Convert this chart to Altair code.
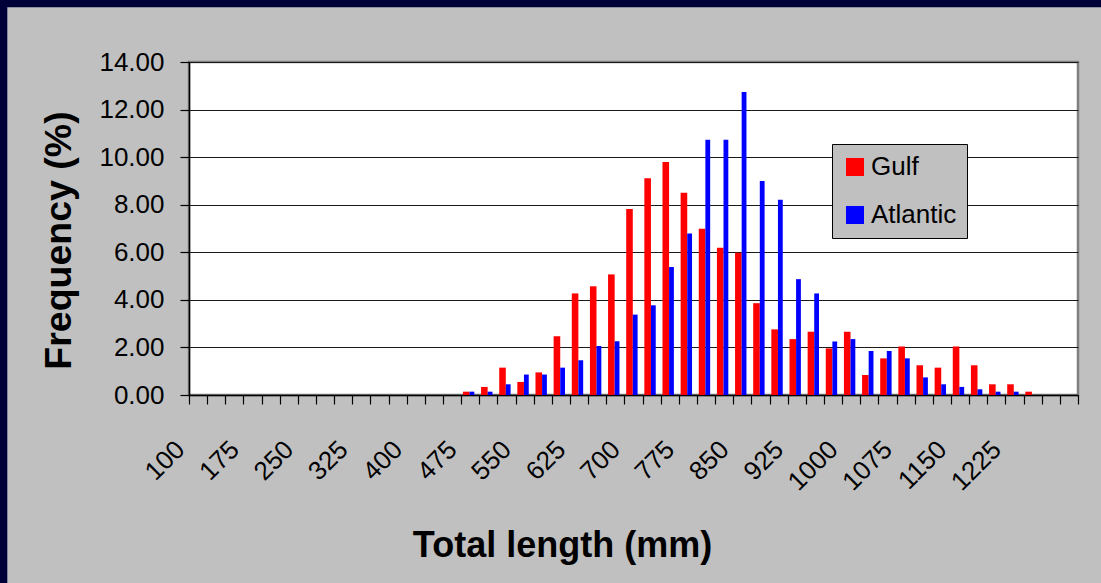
import altair as alt
import pandas as pd

lengths = [100, 125, 150, 175, 200, 225, 250, 275, 300, 325, 350, 375, 400, 425, 450,
           475, 500, 525, 550, 575, 600, 625, 650, 675, 700, 725, 750, 775, 800, 825,
           850, 875, 900, 925, 950, 975, 1000, 1025, 1050, 1075, 1100, 1125, 1150, 1175,
           1200, 1225, 1250, 1275, 1300]
gulf = [0, 0, 0, 0, 0, 0, 0, 0, 0, 0, 0, 0, 0, 0, 0,
        0.14, 0.34, 1.15, 0.55, 0.95, 2.47, 4.27, 4.57, 5.07, 7.82, 9.11, 9.80, 8.50,
        6.99, 6.19, 5.98, 3.86, 2.76, 2.35, 2.66, 1.96, 2.66, 0.84, 1.54, 2.04, 1.25,
        1.15, 2.04, 1.25, 0.45, 0.45, 0.14, 0, 0]
atlantic = [0, 0, 0, 0, 0, 0, 0, 0, 0, 0, 0, 0, 0, 0, 0,
            0.14, 0.14, 0.45, 0.86, 0.86, 1.15, 1.46, 2.06, 2.26, 3.38, 3.77, 5.38, 6.79,
            10.73, 10.73, 12.74, 9.00, 8.21, 4.87, 4.27, 2.25, 2.35, 1.85, 1.85, 1.54, 0.74,
            0.45, 0.34, 0.24, 0.14, 0.14, 0, 0, 0]
series_names = ["Gulf", "Atlantic"]
series_colors = ["#ff0000", "#0000ff"]
y_ticks = [0, 2, 4, 6, 8, 10, 12, 14]

rows = []
for L, g, a in zip(lengths, gulf, atlantic):
    rows.append({"length": L, "freq": g, "series": "Gulf"})
    rows.append({"length": L, "freq": a, "series": "Atlantic"})
df = pd.DataFrame(rows)

FONT = "Liberation Sans"
NAVY = "#000038"

x_enc = alt.X(
    "length:O",
    sort=lengths,
    scale=alt.Scale(paddingInner=0, paddingOuter=0),
    axis=alt.Axis(
        title="Total length (mm)",
        titleFont=FONT, titleFontSize=36, titleFontWeight="bold", titleColor="black",
        titleX=373, titleY=161, titleAlign="center", titleBaseline="alphabetic",
        labelExpr="((datum.value - 100) % 75 == 0 && datum.value < 1300) ? datum.label : ''",
        labelAngle=315, labelAlign="right", labelBaseline="middle",
        labelPadding=41, labelOffset=-18,
        labelFont=FONT, labelFontSize=26, labelColor="black",
        tickBand="extent", tickSize=9, tickColor="#000000", tickWidth=1.2,
        domainColor="#000000", domainWidth=1.5, grid=False,
    ),
)
y_enc = alt.Y(
    "freq:Q",
    scale=alt.Scale(domain=[0, 14], nice=False),
    axis=alt.Axis(
        values=y_ticks, format=".2f",
        title="Frequency (%)",
        titleFont=FONT, titleFontSize=37.5, titleFontWeight="bold", titleColor="black",
        titleAngle=270, titleX=-119, titleY=178, titleAlign="center", titleBaseline="alphabetic",
        labelFont=FONT, labelFontSize=26, labelColor="black", labelPadding=16,
        tickSize=9, tickColor="#000000", tickWidth=1.2,
        domainColor="#000000", domainWidth=1.5,
        grid=True, gridColor="#1a1a1a", gridWidth=1,
    ),
)
color_enc = alt.Color(
    "series:N",
    scale=alt.Scale(domain=series_names, range=series_colors),
    legend=alt.Legend(
        title=None, orient="none", legendX=643, legendY=82, direction="vertical",
        fillColor="#c0c0c0", strokeColor="#000000", padding=10,
        symbolType="square", symbolSize=324, symbolStrokeWidth=0, symbolOpacity=1,
        labelFont=FONT, labelFontSize=26, labelColor="black", labelOffset=3,
        rowPadding=22,
    ),
)

base = alt.Chart(df)
gulf_bars = base.transform_filter(alt.datum.series == "Gulf").mark_bar(
    width=6.6, xOffset=-4, opacity=1
).encode(x=x_enc, y=y_enc, color=color_enc)
atl_bars = base.transform_filter(alt.datum.series == "Atlantic").mark_bar(
    width=4.8, xOffset=1.7, opacity=1
).encode(x=x_enc, y=y_enc, color=color_enc)

one = pd.DataFrame({"k": [0]})
left_strip = alt.Chart(one).mark_rect(color=NAVY).encode(
    x=alt.value(-189), x2=alt.value(-181.7), y=alt.value(-62), y2=alt.value(521)
)
top_strip = alt.Chart(one).mark_rect(color=NAVY).encode(
    x=alt.value(-189), x2=alt.value(912), y=alt.value(-62), y2=alt.value(-54.7)
)

chart = alt.layer(left_strip, top_strip, gulf_bars, atl_bars).properties(
    width=889, height=333,
    autosize=alt.AutoSizeParams(type="none"),
    padding={"left": 189, "top": 62, "right": 23, "bottom": 188},
    background="#c0c0c0",
).configure_view(
    fill="white", stroke="#808080", strokeWidth=2.5
)

chart.save("out.html", embed_options={"renderer": "svg", "actions": False})
